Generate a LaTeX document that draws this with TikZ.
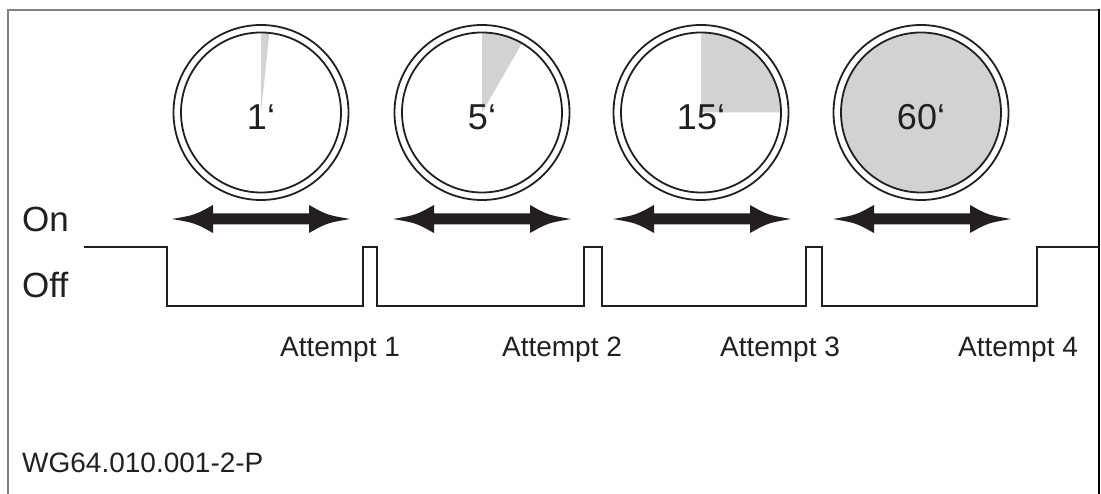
\documentclass[tikz,border=0pt]{standalone}
\usepackage{fontspec}
\setmainfont{Liberation Sans}
\definecolor{ink}{HTML}{231F20}
\definecolor{wedge}{HTML}{D1D2D4}
\definecolor{frame}{HTML}{808080}
\tikzset{
  signal/.style={draw=ink, line width=2pt, line join=miter},
  ring/.style={draw=ink, line width=1.8pt},
  dial/.style={font=\fontsize{36}{36}\selectfont, text=ink, inner sep=0pt, anchor=base},
  level/.style={font=\fontsize{35}{35}\selectfont, text=ink, inner sep=0pt, anchor=base west},
  attempt/.style={font=\fontsize{28}{28}\selectfont, text=ink, inner sep=0pt, anchor=base},
  code/.style={font=\fontsize{28}{28}\selectfont, text=ink, inner sep=0pt, anchor=base west},
}
% double-headed block arrow centred at (#1,#2)
\newcommand\spanarrow[2]{%
  \fill[ink, shift={(#1,#2)}]
    (-89,0) .. controls (-66,-4) .. (-48,-14) -- (-48,-5.5) -- (48,-5.5) -- (48,-14)
    .. controls (66,-4) .. (89,0) .. controls (66,4) .. (48,14) -- (48,5.5)
    -- (-48,5.5) -- (-48,14) .. controls (-66,4) .. cycle;}
% timer dial: wedge of #3 degrees clockwise from twelve o'clock, label #4
% (y axis points down, so twelve o'clock is at -90 degrees)
\newcommand\dial[5]{%
  \coordinate (#1) at (#2,112.5);
  \ifnum#3>0
    \fill[wedge] (#1) -- ++(0,-80) arc[start angle=-90, end angle=-90+#3, radius=80] -- cycle;
  \fi
  \draw[ring] (#1) circle[radius=87.5];
  \draw[ring] (#1) circle[radius=80];
  \node[dial] (#5) at (#2,130) {#4};}
\begin{document}
\begin{tikzpicture}[x=1pt, y=-1pt]
\useasboundingbox (0,0) rectangle (1101,494);
% frame
\draw[frame, line width=2pt] (8,494) -- (8,10) -- (1099,10);
\draw[black, line width=2.4pt] (1099,9) -- (1099,494);
% dials
\dial{d1}{261}{6}{1‘}{l1}
\dial{d2}{482}{30}{5‘}{l2}
\dial{d3}{701}{90}{15‘}{l3}
\fill[wedge] (921,112.5) circle[radius=80];
\dial{d4}{921}{0}{60‘}{l4}
% waiting-time arrows
\spanarrow{261}{219}
\spanarrow{482}{219}
\spanarrow{702}{219}
\spanarrow{922}{219}
% level labels
\node[level] (on) at (22,232) {On};
\node[level] (off) at (22,298) {Off};
% switching signal
\coordinate (s0) at (84,246.7);
\coordinate (s1) at (1099,246.7);
\draw[signal] (s0) -- (167,246.7) -- (167,306) -- (363,306) -- (363,246.7)
  -- (377,246.7) -- (377,306) -- (584,306) -- (584,246.7) -- (602,246.7)
  -- (602,306) -- (806,306) -- (806,246.7) -- (822,246.7) -- (822,306)
  -- (1037,306) -- (1037,246.7) -- (s1);
% attempts
\node[attempt] (a1) at (340,357) {Attempt 1};
\node[attempt] (a2) at (562,357) {Attempt 2};
\node[attempt] (a3) at (780,357) {Attempt 3};
\node[attempt] (a4) at (1018,357) {Attempt 4};
% drawing code
\node[code] (id) at (22,472) {WG64.010.001-2-P};
\end{tikzpicture}
\end{document}
